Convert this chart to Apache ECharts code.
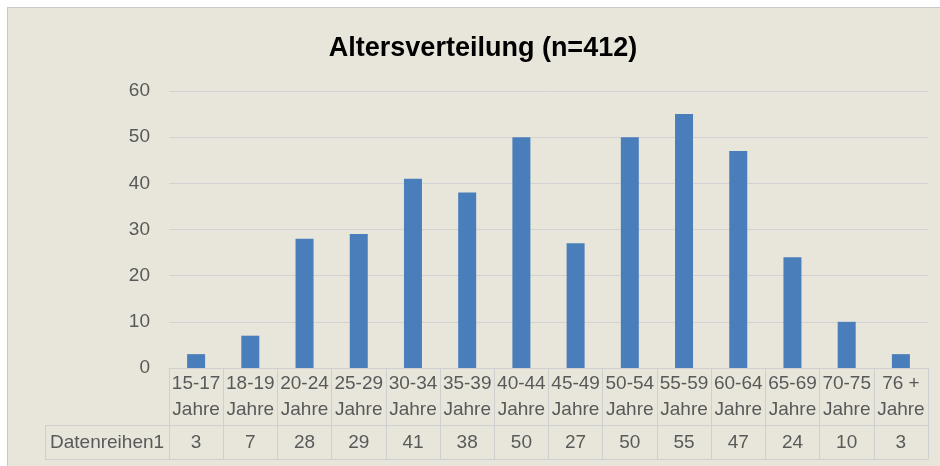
<!DOCTYPE html>
<html>
<head>
<meta charset="utf-8">
<script src="https://cdn.jsdelivr.net/npm/echarts@6/dist/echarts.min.js"></script>
<style>
  html, body { margin: 0; padding: 0; background: #ffffff; }
  #bg { position: absolute; left: 7px; top: 7px; width: 933px; height: 459px;
        background: #E8E6DA; border-top: 1px solid #C9C9C9; border-left: 1px solid #C9C9C9; box-sizing: border-box; }
  #chart { position: absolute; left: 0; top: 0; width: 940px; height: 466px; }
</style>
</head>
<body>
<div id="bg"></div>
<div id="chart"></div>
<script>
const categories = ['15-17\nJahre', '18-19\nJahre', '20-24\nJahre', '25-29\nJahre', '30-34\nJahre', '35-39\nJahre', '40-44\nJahre', '45-49\nJahre', '50-54\nJahre', '55-59\nJahre', '60-64\nJahre', '65-69\nJahre', '70-75\nJahre', '76 +\nJahre'];
const values = [3, 7, 28, 29, 41, 38, 50, 27, 50, 55, 47, 24, 10, 3];
const seriesName = 'Datenreihen1';
const titleText = 'Altersverteilung (n=412)';
const yTicks = { min: 0, max: 60, interval: 10 };

const FONT = '"Liberation Sans", Arial, sans-serif';
const TXT = '#595959';
const LINE = '#CFCFCF';

const chart = echarts.init(document.getElementById('chart'), null, { renderer: 'canvas' });
chart.setOption({
  backgroundColor: 'transparent',
  animation: false,
  title: {
    text: titleText, left: 478, textAlign: 'center', top: 30,
    textStyle: { fontFamily: FONT, fontSize: 27, fontWeight: 'bold', color: '#000000' }
  },
  grid: { left: 169, right: 12, top: 91, bottom: 98, containLabel: false },
  xAxis: [
    {
      type: 'category', data: categories, position: 'bottom',
      axisLine: { show: true, lineStyle: { color: LINE, width: 1 } },
      axisTick: { show: true, length: 57, alignWithLabel: false, lineStyle: { color: LINE } },
      axisLabel: { fontFamily: FONT, fontSize: 19, color: TXT, lineHeight: 26, margin: 3, interval: 0 }
    },
    {
      type: 'category', data: values.map(String), position: 'bottom', offset: 57,
      axisLine: { show: true, lineStyle: { color: LINE, width: 1 } },
      axisTick: { show: true, length: 34, alignWithLabel: false, lineStyle: { color: LINE } },
      axisLabel: { fontFamily: FONT, fontSize: 19, color: TXT, margin: 8, interval: 0 }
    },
    {
      type: 'category', data: values.map(String), position: 'bottom', offset: 91,
      axisLine: { show: true, lineStyle: { color: LINE, width: 1 } },
      axisTick: { show: false }, axisLabel: { show: false }
    }
  ],
  yAxis: {
    type: 'value', min: yTicks.min, max: yTicks.max, interval: yTicks.interval,
    axisLine: { show: false }, axisTick: { show: false },
    axisLabel: { fontFamily: FONT, fontSize: 19, color: TXT, margin: 19 },
    splitLine: { lineStyle: { color: '#D2D2D6', width: 1 } }
  },
  series: [{
    name: seriesName, type: 'bar', data: values, barWidth: 18, xAxisIndex: 0,
    itemStyle: { color: '#4A7EBB' }
  }],
  graphic: [
    { type: 'line', shape: { x1: 45, y1: 425.5, x2: 169, y2: 425.5 }, style: { stroke: LINE, lineWidth: 1 } },
    { type: 'line', shape: { x1: 45, y1: 459.5, x2: 169, y2: 459.5 }, style: { stroke: LINE, lineWidth: 1 } },
    { type: 'line', shape: { x1: 45.5, y1: 425, x2: 45.5, y2: 460 }, style: { stroke: LINE, lineWidth: 1 } },
    { type: 'text', left: 50, top: 433, style: { text: seriesName, font: '19px ' + FONT, fill: TXT } }
  ]
});
</script>
</body>
</html>
